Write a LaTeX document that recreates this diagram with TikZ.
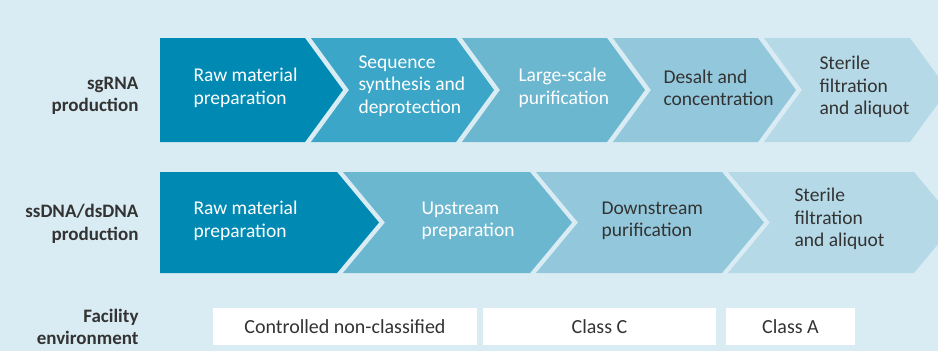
\documentclass[tikz,border=0pt]{standalone}
\usepackage{fontspec}
\setmainfont{Carlito}
\usetikzlibrary{positioning}

\definecolor{bgblue}{RGB}{218,236,243}
\definecolor{stepA}{RGB}{0,137,179}
\definecolor{stepB}{RGB}{59,166,200}
\definecolor{stepC}{RGB}{108,183,208}
\definecolor{stepD}{RGB}{147,200,220}
\definecolor{stepE}{RGB}{181,217,230}
\definecolor{inkgray}{RGB}{51,51,51}

\tikzset{
  steptext/.style={anchor=west, align=left, font=\fontsize{19.5}{22.5}\selectfont},
  lighttext/.style={steptext, text=white},
  darktext/.style={steptext, text=inkgray},
  rowlabel/.style={anchor=east, align=right, text=inkgray, font=\bfseries\fontsize{19}{22.5}\selectfont},
  envbox/.style={fill=white, text=inkgray, font=\fontsize{20}{20}\selectfont}
}

\begin{document}
\begin{tikzpicture}[x=1pt, y=-1pt]
\fill[bgblue] (0,0) rectangle (938,351);
\useasboundingbox (0,0) rectangle (938,351);
\begin{scope}
\clip (0,0) rectangle (938,351);
% sgRNA row
\fill[stepA] (160,38) -- (305,38) -- (343,90) -- (305,142) -- (160,142) -- cycle;
\fill[stepB] (311,38) -- (456,38) -- (494,90) -- (456,142) -- (311,142) -- (349,90) -- cycle;
\fill[stepC] (462,38) -- (607,38) -- (645,90) -- (607,142) -- (462,142) -- (500,90) -- cycle;
\fill[stepD] (613,38) -- (758,38) -- (796,90) -- (758,142) -- (613,142) -- (651,90) -- cycle;
\fill[stepE] (764,38) -- (910,38) -- (948,90) -- (910,142) -- (764,142) -- (802,90) -- cycle;
% ssDNA/dsDNA row
\fill[stepA] (160,172) -- (337,172) -- (379,222.5) -- (337,273) -- (160,273) -- cycle;
\fill[stepC] (343,172) -- (530,172) -- (572,222.5) -- (530,273) -- (343,273) -- (385,222.5) -- cycle;
\fill[stepD] (536,172) -- (722,172) -- (764,222.5) -- (722,273) -- (536,273) -- (578,222.5) -- cycle;
\fill[stepE] (728,172) -- (914,172) -- (956,222.5) -- (914,273) -- (728,273) -- (770,222.5) -- cycle;
\end{scope}

\node[rowlabel] (sgrna) at (142,96) {sgRNA\\production};
\node[lighttext] (sg1) at (190,88) {Raw material\\preparation};
\node[lighttext] (sg2) at (355,86) {Sequence\\synthesis and\\deprotection};
\node[lighttext] (sg3) at (515,88) {Large-scale\\purification};
\node[darktext] (sg4) at (660,88) {Desalt and\\concentration};
\node[darktext] (sg5) at (816,87) {Sterile\\filtration\\and aliquot};

\node[rowlabel] (dna) at (142,224) {ssDNA/dsDNA\\production};
\node[lighttext] (dna1) at (190,221) {Raw material\\preparation};
\node[lighttext] (dna2) at (418,221) {Upstream\\preparation};
\node[darktext] (dna3) at (598,221) {Downstream\\purification};
\node[darktext] (dna4) at (791,219) {Sterile\\filtration\\and aliquot};

\node[rowlabel] (env) at (142,327) {Facility\\environment};
\node[envbox, minimum width=264pt, minimum height=37pt] (controlled) at (345,326.5) {Controlled non-classified};
\node[envbox, minimum width=233pt, minimum height=37pt] (classc) at (599.5,326.5) {Class C};
\node[envbox, minimum width=129pt, minimum height=37pt] (classa) at (790.5,326.5) {Class A};
\end{tikzpicture}
\end{document}
